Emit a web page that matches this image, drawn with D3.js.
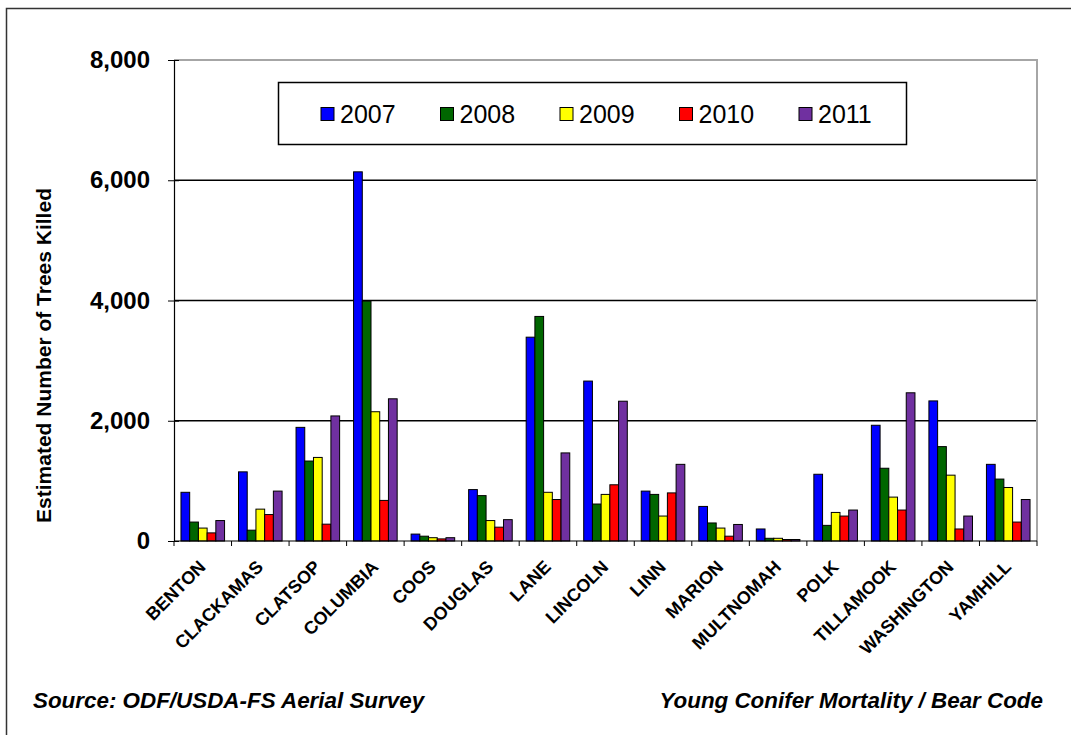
<!DOCTYPE html>
<html>
<head>
<meta charset="utf-8">
<script src="https://cdn.jsdelivr.net/npm/d3@7"></script>
<style>
  html, body { margin: 0; padding: 0; background: #fff; }
  svg { display: block; font-family: "Liberation Sans", Arial, sans-serif; }
</style>
</head>
<body>
<svg id="chart" width="1071" height="735"></svg>
<script>
// Young conifer mortality (bear damage) by county, 2007-2011
const counties = ["BENTON","CLACKAMAS","CLATSOP","COLUMBIA","COOS","DOUGLAS","LANE","LINCOLN","LINN","MARION","MULTNOMAH","POLK","TILLAMOOK","WASHINGTON","YAMHILL"];
const years = ["2007","2008","2009","2010","2011"];
const trees2007 = [810, 1150, 1890, 6140, 115, 855, 3390, 2660, 830, 575, 200, 1110, 1925, 2330, 1275];
const trees2008 = [315, 180, 1330, 3990, 80, 755, 3735, 615, 775, 300, 45, 260, 1210, 1570, 1030];
const trees2009 = [215, 530, 1390, 2150, 55, 340, 810, 775, 415, 215, 45, 475, 730, 1095, 890];
const trees2010 = [135, 440, 280, 675, 35, 230, 690, 935, 800, 80, 25, 415, 515, 200, 315];
const trees2011 = [340, 830, 2080, 2365, 55, 355, 1465, 2325, 1275, 275, 25, 515, 2465, 415, 690];
const yTicks = [0, 2000, 4000, 6000, 8000];
const yearColors = ["#0000FF", "#006600", "#FFFF00", "#FF0000", "#7030A0"];

const seriesValues = [trees2007, trees2008, trees2009, trees2010, trees2011];

const svg = d3.select("#chart");

// outer frame
svg.append("rect")
  .attr("x", 6.5).attr("y", 8.5)
  .attr("width", 1100).attr("height", 800)
  .attr("fill", "#fff").attr("stroke", "#333").attr("stroke-width", 1.5);

const plotLeft = 174, plotRight = 1037, plotTop = 60, plotBottom = 541;

const x0 = d3.scaleBand().domain(counties).range([plotLeft, plotRight]).paddingInner(0).paddingOuter(0);
const x1 = d3.scaleBand().domain(years).range([0, x0.bandwidth()]).paddingInner(0).paddingOuter(0.8);
const y = d3.scaleLinear().domain([0, 8000]).range([plotBottom, plotTop]);
const color = d3.scaleOrdinal().domain(years).range(yearColors);

// gridlines
svg.append("g")
  .selectAll("line")
  .data(yTicks.filter(t => t > 0 && t < 8000))
  .join("line")
  .attr("x1", plotLeft).attr("x2", plotRight)
  .attr("y1", d => y(d)).attr("y2", d => y(d))
  .attr("stroke", "#000").attr("stroke-width", 1.3);

// plot area border (top and right)
svg.append("path")
  .attr("d", `M${plotLeft},${y(8000)}H${plotRight}V${plotBottom}`)
  .attr("fill", "none").attr("stroke", "#a6a6a6").attr("stroke-width", 2);

// bars
const rows = counties.map((c, i) => ({ county: c, values: years.map((yr, j) => ({ year: yr, value: seriesValues[j][i] })) }));

svg.append("g")
  .selectAll("g")
  .data(rows)
  .join("g")
  .attr("transform", d => `translate(${x0(d.county)},0)`)
  .selectAll("rect")
  .data(d => d.values)
  .join("rect")
  .attr("x", d => x1(d.year))
  .attr("width", x1.bandwidth())
  .attr("y", d => y(d.value))
  .attr("height", d => y(0) - y(d.value))
  .attr("fill", d => color(d.year))
  .attr("stroke", "#000").attr("stroke-width", 1);

// y axis
const yAxis = svg.append("g")
  .attr("transform", `translate(${plotLeft},0)`)
  .call(d3.axisLeft(y).tickValues(yTicks).tickFormat(d3.format(",")).tickSize(6).tickPadding(18));
yAxis.select(".domain").attr("stroke", "#000").attr("stroke-width", 1.2);
yAxis.selectAll(".tick line").attr("stroke", "#000").attr("x2", -6).attr("x1", 5);
yAxis.selectAll(".tick text")
  .attr("font-family", "Liberation Sans, Arial, sans-serif")
  .attr("font-size", 24).attr("font-weight", "bold").attr("fill", "#000");

// x axis
const xAxis = svg.append("g")
  .attr("transform", `translate(0,${plotBottom})`);
xAxis.append("line")
  .attr("x1", plotLeft).attr("x2", plotRight).attr("y1", 0).attr("y2", 0)
  .attr("stroke", "#000").attr("stroke-width", 1.2);
xAxis.selectAll("line.tick")
  .data(counties.map(c => x0(c)).concat([plotRight]))
  .join("line")
  .attr("class", "tick")
  .attr("x1", d => d).attr("x2", d => d)
  .attr("y1", 0).attr("y2", 5)
  .attr("stroke", "#000").attr("stroke-width", 1);
xAxis.selectAll("text")
  .data(counties)
  .join("text")
  .attr("transform", d => `translate(${x0(d) + x0.bandwidth() / 2 + 4},${27}) rotate(-45)`)
  .attr("text-anchor", "end")
  .attr("font-size", 18).attr("font-weight", "bold").attr("fill", "#000")
  .text(d => d);

// y axis title
svg.append("text")
  .attr("transform", `translate(51,${(plotTop + plotBottom) / 2 + 55}) rotate(-90)`)
  .attr("text-anchor", "middle")
  .attr("font-size", 21).attr("font-weight", "bold").attr("fill", "#000")
  .text("Estimated Number of Trees Killed");

// legend
const legend = svg.append("g");
legend.append("rect")
  .attr("x", 278.5).attr("y", 82.5).attr("width", 628).attr("height", 62)
  .attr("fill", "#fff").attr("stroke", "#000").attr("stroke-width", 1.5);
const legendItems = legend.selectAll("g.item")
  .data(years)
  .join("g")
  .attr("class", "item")
  .attr("transform", (d, i) => `translate(${321 + i * 119.5},107.5)`);
legendItems.append("rect")
  .attr("width", 13).attr("height", 13)
  .attr("fill", d => color(d)).attr("stroke", "#000").attr("stroke-width", 1);
legendItems.append("text")
  .attr("x", 19).attr("y", 15.5)
  .attr("font-size", 25).attr("fill", "#000")
  .text(d => d);

// footer notes
svg.append("text")
  .attr("x", 33).attr("y", 708)
  .attr("font-size", 22.4).attr("font-weight", "bold").attr("font-style", "italic")
  .attr("fill", "#000")
  .text("Source: ODF/USDA-FS Aerial Survey");
svg.append("text")
  .attr("x", 1043).attr("y", 708)
  .attr("text-anchor", "end")
  .attr("font-size", 22.4).attr("font-weight", "bold").attr("font-style", "italic")
  .attr("fill", "#000")
  .text("Young Conifer Mortality / Bear Code");
</script>
</body>
</html>
